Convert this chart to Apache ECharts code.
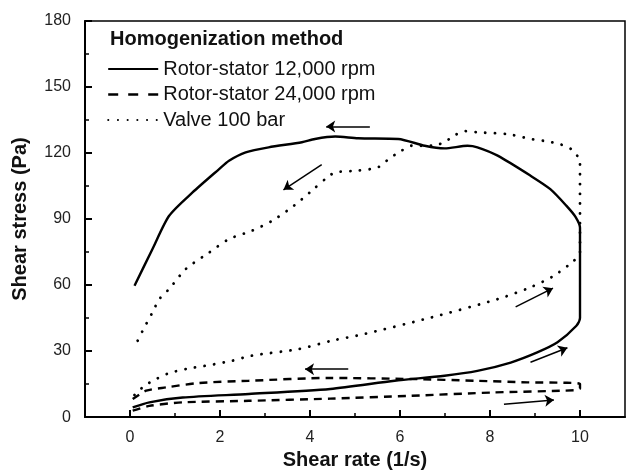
<!DOCTYPE html>
<html>
<head>
<meta charset="utf-8">
<script src="https://cdn.jsdelivr.net/npm/echarts@6/dist/echarts.min.js"></script>
<style>
  html, body { margin: 0; padding: 0; background: #fff; }
  #chart { width: 626px; height: 475px; }
</style>
</head>
<body>
<div id="chart"></div>
<script>
// 剪切速率 (x) / 剪切应力 (y) 回线
var seriesNames = ['Rotor-stator 12,000 rpm', 'Rotor-stator 24,000 rpm', 'Valve 100 bar']
var xTicks = [0, 2, 4, 6, 8, 10]
var xMinorTicks = [1, 3, 5, 7, 9]

var rotor12k = [
  [0.06, 4.4], [0.43, 6.7], [1.17, 8.9], [2.64, 10.5], [4.45, 12.8], [5.88, 16.5],
  [6.99, 18.8], [7.72, 21], [8.46, 24.8], [9.05, 29.4], [9.5, 34], [9.92, 41.5],
  [10, 45], [10, 86], [9.9, 91], [9.7, 96], [9.34, 103.6], [8.9, 109.7],
  [8.17, 118.8], [7.72, 122.6], [7.5, 123.3], [6.99, 122.1], [6.55, 123.3],
  [5.96, 126.4], [5.07, 126.7], [4.56, 127.5], [4.11, 126.4], [3.82, 124.9],
  [3.08, 122.6], [2.57, 120.3], [2.2, 116.5], [1.98, 112.7], [1.39, 102.1],
  [0.87, 91.5], [0.5, 76.4], [0.1, 59.7]
]
var rotor24k = [
  [0.06, 2.9], [0.43, 5.1], [1.17, 6.7], [2.64, 7.4], [4.45, 8.4], [6.25, 9.7],
  [8.09, 11.2], [9.86, 12.2], [10, 13], [10, 15], [9.71, 15.6], [8.83, 15.8],
  [7.72, 16.5], [6.25, 17.3], [4.45, 17.8], [2.64, 16.5], [1.54, 15.5],
  [0.8, 13.5], [0.36, 12], [0.06, 8.2]
]
var valve100 = [
  [0.1, 10], [0.32, 14.2], [0.58, 17.3], [0.87, 20], [1.31, 22.1], [1.76, 23.6],
  [2.27, 25.6], [2.7, 27.9], [3.75, 30.9], [4.48, 34.7], [5.2, 37.7], [6.7, 45.3],
  [8.17, 53.6], [8.9, 59], [9.4, 64], [9.86, 71], [10, 75], [10, 116],
  [9.82, 121.5], [9.56, 124], [9.2, 125.5], [8.9, 126.4], [8.39, 128.6],
  [7.72, 129.4], [7.43, 130], [7.21, 128], [6.99, 125], [6.73, 123.3],
  [6.25, 123.3], [6.03, 121], [5.77, 117.6], [5.51, 113.5], [5.07, 112],
  [4.56, 111.2], [4.34, 108.2], [4.08, 103.6], [3.64, 96], [3.16, 89.2],
  [2.71, 84.7], [2.2, 80.9], [1.76, 74.8], [1.24, 67.3], [0.87, 58.2],
  [0.65, 53.6], [0.5, 47.6], [0.28, 39.2], [0.17, 34.7]
]
// 箭头: [x1, y1, x2, y2]
var arrows = [
  [5.33, 132.1, 4.36, 132.1],
  [4.26, 114.7, 3.41, 103.3],
  [8.57, 50.1, 9.4, 58.6],
  [8.9, 24.9, 9.72, 31.5],
  [4.85, 21.8, 3.89, 21.8],
  [8.31, 5.8, 9.42, 7.8]
]

var fontFamily = 'Liberation Sans, Arial, sans-serif'
var myChart = echarts.init(document.getElementById('chart'))

var lineSeries = function (name, data, type) {
  return {
    name: name,
    type: 'line',
    data: data,
    symbol: 'none',
    smooth: 0.25,
    smoothMonotone: 'none',
    lineStyle: {
      color: '#000',
      width: type === 'dotted' ? 2.8 : 2.4,
      type: type === 'dashed' ? [8, 6] : (type === 'dotted' ? [0.1, 9.6] : 'solid'),
      cap: type === 'dotted' ? 'round' : 'butt'
    },
    itemStyle: { color: '#000' }
  }
}

var option = {
  animation: false,
  textStyle: { fontFamily: fontFamily },
  title: {
    text: 'Homogenization method',
    left: 110,
    top: 29,
    padding: 0,
    textStyle: { fontSize: 20, fontWeight: 'bold', color: '#111', fontFamily: fontFamily }
  },
  legend: {
    orient: 'vertical',
    left: 107,
    top: 59,
    padding: 0,
    itemWidth: 50,
    itemHeight: 14,
    itemGap: 5.5,
    itemStyle: { opacity: 0 },
    textStyle: { fontSize: 20, color: '#111', lineHeight: 20, fontFamily: fontFamily },
    data: [
      { name: seriesNames[0] },
      { name: seriesNames[1], lineStyle: { type: [10, 10], width: 2.4 } },
      { name: seriesNames[2] }
    ]
  },
  grid: {
    left: 85,
    top: 21,
    right: 1,
    bottom: 57,
    show: true,
    borderColor: '#000',
    borderWidth: 1.5
  },
  xAxis: [{
    type: 'value',
    min: -1,
    max: 11,
    name: 'Shear rate (1/s)',
    nameLocation: 'middle',
    nameGap: 25,
    nameTextStyle: { fontSize: 20, fontWeight: 'bold', color: '#111', fontFamily: fontFamily },
    axisLine: { onZero: false, lineStyle: { color: '#000', width: 2 } },
    axisTick: { inside: true, length: 7, customValues: xTicks, lineStyle: { color: '#000', width: 2 } },
    axisLabel: { customValues: xTicks, fontSize: 16, color: '#222', margin: 12 },
    splitLine: { show: false }
  }, {
    type: 'value',
    min: -1,
    max: 11,
    position: 'bottom',
    axisLine: { show: false, onZero: false },
    axisTick: { inside: true, length: 4, customValues: xMinorTicks, lineStyle: { color: '#000', width: 1.5 } },
    axisLabel: { show: false },
    splitLine: { show: false }
  }],
  yAxis: {
    type: 'value',
    min: 0,
    max: 180,
    interval: 30,
    name: 'Shear stress (Pa)',
    nameLocation: 'middle',
    nameGap: 55,
    nameTextStyle: { fontSize: 20, fontWeight: 'bold', color: '#111', fontFamily: fontFamily },
    axisLine: { show: true, onZero: false, lineStyle: { color: '#000', width: 2 } },
    axisTick: { inside: true, length: 7, lineStyle: { color: '#000', width: 2 } },
    minorTick: { show: true, splitNumber: 2, length: 4, lineStyle: { color: '#000', width: 1.5 } },
    axisLabel: { fontSize: 16, color: '#222', margin: 14 },
    splitLine: { show: false }
  },
  series: [
    lineSeries(seriesNames[0], rotor12k, 'solid'),
    lineSeries(seriesNames[1], rotor24k, 'dashed'),
    lineSeries(seriesNames[2], valve100, 'dotted'),
    {
      name: 'arrows',
      type: 'lines',
      coordinateSystem: 'cartesian2d',
      xAxisIndex: 0,
      yAxisIndex: 0,
      symbol: ['none', 'arrow'],
      symbolSize: 9,
      lineStyle: { color: '#000', width: 1.5, opacity: 1 },
      data: arrows.map(function (a) {
        return { coords: [[a[0], a[1]], [a[2], a[3]]] }
      })
    }
  ]
}

myChart.setOption(option)
</script>
</body>
</html>
